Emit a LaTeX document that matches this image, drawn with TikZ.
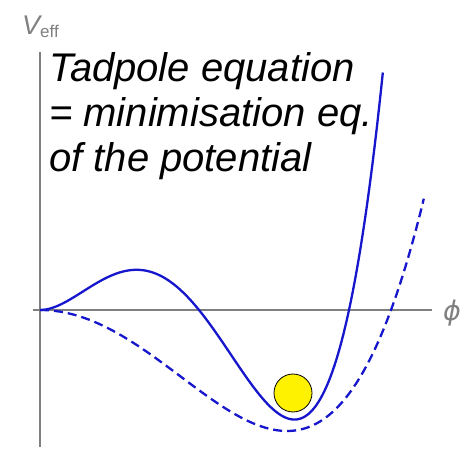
\documentclass[tikz,border=0pt]{standalone}
\usepackage{fontspec}
\setmainfont{Liberation Sans}
\newfontfamily\phifont{DejaVu Sans}
\definecolor{curveblue}{RGB}{22,22,205}
\definecolor{axisgray}{RGB}{128,128,128}
\tikzset{
  axisline/.style={draw=axisgray, line width=1.1pt},
  potsolid/.style={draw=curveblue, line width=2.3pt},
  potdashed/.style={draw=curveblue, line width=2.3pt, dash pattern=on 9pt off 5pt},
  axislabel/.style={text=axisgray, inner sep=0pt},
  ballstyle/.style={circle, draw=black, fill=yellow, line width=0.8pt, minimum size=38pt, inner sep=0pt},
}
\begin{document}
\begin{tikzpicture}[x=1pt,y=1pt]
\useasboundingbox (0,0) rectangle (462,449);
\coordinate (xstart) at (33,139);
\coordinate (xend) at (432,139);
\coordinate (ybot) at (40,2);
\coordinate (ytop) at (40,397);
\draw[axisline] (xstart) -- (xend);
\draw[axisline] (ybot) -- (ytop);
\node[axislabel, anchor=center] (phi) at (452,136) {\phifont\fontsize{27}{27}\selectfont\itshape ϕ};
\node[axislabel, anchor=base west] (veff) at (22,414) {\fontsize{27}{27}\selectfont\itshape V\raisebox{-3pt}{\fontsize{17}{17}\selectfont\upshape eff}};
\node[anchor=north west, inner sep=0pt, align=left, font=\fontsize{40}{45}\selectfont\itshape] (txt) at (49,397) {Tadpole equation\\= minimisation eq.\\of the potential};
\draw[potdashed] plot[domain=0:3.84, samples=200] ({40+100*\x},{139+2.895*\x*\x*(\x-3.51)*(\x+4.117)});
\draw[potsolid] plot[domain=0:3.43, samples=200] ({40+100*\x},{139+32.5*\x*\x*(\x-1.59)*(\x-3.09)});
\node[ballstyle] (ball) at (293,56) {};
\end{tikzpicture}
\end{document}
